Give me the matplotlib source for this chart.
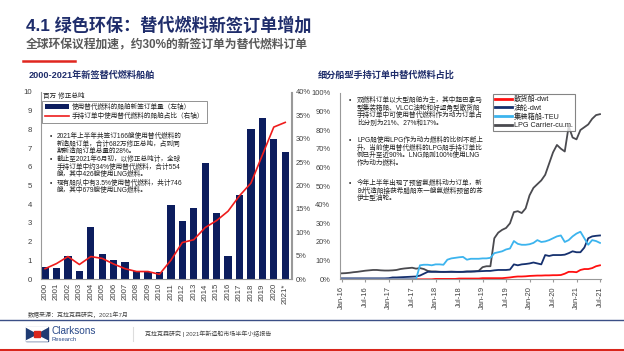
import matplotlib.pyplot as plt
from matplotlib.patches import Rectangle, Polygon
from matplotlib.lines import Line2D

plt.rcParams['font.family'] = ['Liberation Sans', 'Noto Sans CJK SC', 'DejaVu Sans']

# ---- left chart data: new orders for alternative-fuel ships ----
years = ['2000', '2001', '2002', '2003', '2004', '2005', '2006', '2007', '2008', '2009', '2010',
         '2011', '2012', '2013', '2014', '2015', '2016', '2017', '2018', '2019', '2020', '2021*']
orders_mcgt = [0.62, 0.57, 1.25, 0.45, 2.78, 1.35, 1.02, 0.90, 0.45, 0.38, 0.38,
               3.95, 3.12, 3.80, 6.20, 3.55, 1.22, 4.48, 8.00, 8.60, 7.50, 6.80]
share_pct = [2.2, 3.3, 4.8, 3.1, 4.8, 4.4, 3.2, 2.2, 1.6, 1.6, 1.0,
             4.0, 7.8, 8.4, 11.0, 12.5, 14.5, 17.8, 20.5, 26.5, 32.5, 33.5]

# ---- right chart data: monthly share of orderbook, Jan-16 .. Jul-21 ----
month_ticks = ['Jan-16', 'Jul-16', 'Jan-17', 'Jul-17', 'Jan-18', 'Jul-18',
               'Jan-19', 'Jul-19', 'Jan-20', 'Jul-20', 'Jan-21', 'Jul-21']
bulk = [0] * 24 + [0.2] * 6 + [0.4] * 6 + [0.6] * 6 + \
       [0.8, 1.0, 1.3, 1.5, 1.5, 1.6, 1.8, 1.9, 2.0, 2.0, 2.1, 2.1, 2.2, 2.2, 2.3,
        3.0, 4.0, 4.0, 3.8, 5.0, 5.5, 5.5, 6.0, 7.0, 7.5]
tanker = [0.5, 0.5, 0.5, 0.5, 0.5, 0.5, 0.5, 0.5, 0.5, 0.5, 0.5, 0.5,
          0.6, 1.0, 1.0, 1.1, 1.2, 1.3, 1.4, 1.5, 2.0, 3.0, 4.0, 4.0,
          4.0, 4.0, 4.0, 4.0, 4.0, 4.0, 4.0, 4.0, 4.1, 4.2, 4.2, 4.3,
          4.4, 4.5, 4.5, 4.8, 5.0, 5.0, 5.0, 5.2, 8.0, 7.5, 8.0, 8.2,
          8.5, 9.0, 8.5, 8.0, 13.0, 12.5, 13.0, 13.0, 13.0, 13.2, 14.0, 15.0,
          14.5, 14.5, 17.0, 22.0, 23.0, 23.3, 23.5]
container = [0] * 20 + \
            [7.5, 7.8, 7.8, 7.5, 8.0, 8.0, 7.8, 10.5, 11.2, 11.5, 11.8, 12.0,
             10.5, 11.0, 11.0, 11.0, 11.2, 11.2, 11.5, 14.0, 14.5, 15.0, 16.0, 16.5,
             20.5, 19.0, 18.5, 18.5, 18.8, 19.5, 21.0, 20.0, 20.3, 21.0, 22.0, 23.0,
             23.5, 20.0, 21.0, 23.0, 24.5, 25.5, 22.0, 18.5, 21.0, 20.5, 19.5]
lpg = [3.2, 3.3, 3.5, 3.8, 4.0, 4.3, 4.6, 4.8, 5.0, 5.0, 4.8, 4.7,
       4.7, 4.8, 5.0, 5.5, 5.8, 6.0, 6.2, 5.7, 6.0, 5.5, 4.5, 4.2,
       4.2, 4.0, 3.9, 4.0, 4.1, 4.0, 3.9, 4.0, 4.2, 4.1, 4.3, 4.5,
       6.5, 7.0, 7.0, 22.0, 25.0, 26.5, 27.5, 30.0, 36.0, 36.5, 35.5, 38.0,
       45.0, 49.0, 51.0, 53.0, 56.0, 62.0, 68.0, 72.0, 70.0, 68.5, 82.0, 76.0,
       75.0, 80.0, 81.5, 83.0, 86.0, 88.0, 88.5]

NAVY = '#0c1d5e'
TITLE = '#1f2d6b'
GREY = '#404040'
NOTE = 4.75
W, H = 624, 351

fig = plt.figure(figsize=(6.24, 3.51), dpi=100)


def fx(x):
    return x / W


def fy(y):
    return 1 - y / H


# ---- slide header ----
fig.text(fx(26), fy(25), '4.1 绿色环保：替代燃料新签订单增加', fontsize=12.3, fontweight='bold',
         color=TITLE, va='center')
fig.text(fx(26), fy(45), '全球环保议程加速，约30%的新签订单为替代燃料订单', fontsize=8.5,
         fontweight='bold', color='#595959', va='center')
fig.add_artist(Line2D([fx(23), fx(75)], [fy(60.5), fy(60.5)], color='#e0261f', lw=1.8))
fig.text(fx(29), fy(75), '2000-2021年新签替代燃料船舶', fontsize=6.6, fontweight='bold',
         color=TITLE, va='center')
fig.text(fx(318), fy(75), '细分船型手持订单中替代燃料占比', fontsize=6.6, fontweight='bold',
         color=TITLE, va='center')

# ---- left chart ----
ax1 = fig.add_axes([fx(40.5), fy(279), fx(251), 187 / H])
x = range(len(years))
ax1.bar(x, orders_mcgt, width=0.64, color=NAVY, label='使用替代燃料的船舶新签订单量（左轴）')
ax1.set_xlim(-0.4, 21.55)
ax1.set_ylim(0, 10)
ax1.set_yticks(range(0, 11))
ax1.set_xticks(list(x))
ax1.set_xticklabels(years, rotation=90)
ax1.tick_params(labelsize=5.6, colors=GREY, length=0, pad=3)
ax1.tick_params(axis='y', pad=6)
ax1.spines['top'].set_visible(False)
for s in ['left', 'bottom', 'right']:
    ax1.spines[s].set_color('#999999')
    ax1.spines[s].set_linewidth(0.8)

ax1r = ax1.twinx()
ax1r.plot(x, share_pct, color='#ee1c1c', lw=1.2, label='手持订单中使用替代燃料的船舶占比（右轴）')
ax1r.set_ylim(0, 40)
ax1r.set_yticks(range(0, 41, 5))
ax1r.set_yticklabels([f'{v}%' for v in range(0, 41, 5)])
ax1r.tick_params(labelsize=5.4, colors=GREY, length=0, pad=3)
for s in ['top', 'left', 'bottom']:
    ax1r.spines[s].set_visible(False)
ax1r.spines['right'].set_color('#999999')
ax1r.spines['right'].set_linewidth(0.8)

ax1.text(0.01, 0.975, '百万 修正总吨', transform=ax1.transAxes, fontsize=NOTE, color='#222222',
         va='center')
h1, l1 = ax1.get_legend_handles_labels()
h2, l2 = ax1r.get_legend_handles_labels()
leg = ax1r.legend(h1 + h2, l1 + l2, loc='upper left', bbox_to_anchor=(fx(42.5), fy(101)),
                  bbox_transform=fig.transFigure, fontsize=NOTE, frameon=True, fancybox=False,
                  edgecolor='#777777', borderpad=0.4, labelspacing=0.35, handlelength=3.6,
                  handletextpad=0.4, borderaxespad=0)
leg.get_frame().set_linewidth(0.7)
for t in leg.get_texts():
    t.set_color('#222222')

left_notes = [
    (50, 136.5, '•'), (57, 136.5, '2021年上半年共签订166艘使用替代燃料的'),
    (57, 144.0, '新造船订单，合计682万修正总吨，占到同'),
    (57, 151.5, '期新造船订单总量的28%。'),
    (50, 159.5, '•'), (57, 159.5, '截止至2021年6月初，以修正总吨计，全球'),
    (57, 167.0, '手持订单中约34%使用替代燃料，合计554'),
    (57, 174.5, '艘，其中426艘使用LNG燃料。'),
    (50, 183.0, '•'), (57, 183.0, '现有船队中有3.5%使用替代燃料，共计746'),
    (57, 190.5, '艘，其中679艘使用LNG燃料。'),
]
for px, py, s in left_notes:
    fig.text(fx(px), fy(py), s, fontsize=NOTE, color='#222222', va='center')

# ---- right chart ----
ax2 = fig.add_axes([fx(340), fy(279.3), fx(261), 186.6 / H])
m = range(len(lpg))
ax2.plot(m, lpg, color='#4a4a4f', lw=1.3, label='LPG Carrier-cu.m.')
ax2.plot(m, tanker, color='#15306e', lw=1.3, label='油轮-dwt')
ax2.plot(m, bulk, color='#ff1010', lw=1.3, label='散货船-dwt')
ax2.plot(m, container, color='#3cb4ee', lw=1.3, label='集装箱船-TEU')
ax2.set_xlim(-0.43, 66.26)
ax2.set_ylim(0, 100)
ax2.set_yticks(range(0, 101, 10))
ax2.set_yticklabels([f'{v}%' for v in range(0, 101, 10)])
ax2.set_xticks(range(0, 67, 6))
ax2.set_xticklabels(month_ticks, rotation=90)
ax2.tick_params(labelsize=5.4, colors=GREY, pad=3)
ax2.tick_params(axis='y', length=0, pad=7)
ax2.tick_params(axis='x', length=2, color='#999999')
for s in ['top', 'right']:
    ax2.spines[s].set_visible(False)
for s in ['left', 'bottom']:
    ax2.spines[s].set_color('#999999')
    ax2.spines[s].set_linewidth(0.8)

hs, ls = ax2.get_legend_handles_labels()
order = [2, 1, 3, 0]
leg2 = ax2.legend([hs[i] for i in order], [ls[i] for i in order], loc='upper left',
                  bbox_to_anchor=(fx(492.5), fy(93.5)), bbox_transform=fig.transFigure,
                  fontsize=5.2, frameon=True, fancybox=False, edgecolor='#666666',
                  borderpad=0.3, labelspacing=0.2, handlelength=2.4, handletextpad=0.3,
                  borderaxespad=0)
leg2.get_frame().set_linewidth(0.8)
for ln in leg2.get_lines():
    ln.set_linewidth(2.0)
for t in leg2.get_texts():
    t.set_color('#222222')

right_notes = [
    (349, 100.5, '•'), (357, 100.5, '双燃料订单以大型船舶为主，其中超巴拿马'),
    (357, 108.0, '型集装箱船、VLCC油轮和好望角型散货船'),
    (357, 115.5, '手持订单中可使用替代燃料作为动力订单占'),
    (357, 123.0, '比分别为21%、27%和17%。'),
    (349, 140.5, '•'), (357, 140.5, 'LPG船使用LPG作为动力燃料的比例不断上'),
    (357, 148.0, '升，当前使用替代燃料的LPG船手持订单比'),
    (357, 155.5, '例已升至近90%。LNG船则100%使用LNG'),
    (357, 163.0, '作为动力燃料。'),
    (349, 183.5, '•'), (357, 183.5, '今年上半年出现了预留氨燃料动力订单，新'),
    (357, 191.0, '时代造船接获希腊船东一艘氨燃料预留的苏'),
    (357, 198.5, '伊士型油轮。'),
]
for px, py, s in right_notes:
    fig.text(fx(px), fy(py), s, fontsize=NOTE, color='#222222', va='center')

# ---- footer ----
fig.text(fx(28), fy(315), '数据来源：克拉克森研究，2021年7月', fontsize=4.3, color='#444444',
         va='center')
fig.add_artist(Line2D([0, 1], [fy(320), fy(320)], color='#3b4f86', lw=1.0))
fig.add_artist(Line2D([0, 1], [fy(349.5), fy(349.5)], color='#d9261c', lw=2.2))
fig.add_artist(Line2D([fx(132.5), fx(132.5)], [fy(327), fy(341)], color='#dddddd', lw=0.8))
# logo
fig.add_artist(Rectangle((fx(26), fy(341)), fx(22), 14 / H, color='#1f3b73'))
fig.add_artist(Polygon([(fx(26), fy(327)), (fx(37), fy(333)), (fx(48), fy(327))],
                       closed=True, color='white'))
fig.add_artist(Polygon([(fx(26), fy(341)), (fx(37), fy(335.5)), (fx(48), fy(341))],
                       closed=True, color='white'))
fig.add_artist(Rectangle((fx(34), fy(337)), fx(6), 6 / H, color='#d9261c'))
fig.text(fx(51), fy(331), 'Clarksons', fontsize=7.2, color='#2a4a8a', va='center')
fig.text(fx(51), fy(339.5), 'Research', fontsize=4.2, color='#2a4a8a', va='center')
fig.text(fx(145), fy(334), '克拉克森研究 | 2021年新造船市场半年小结报告', fontsize=4.3,
         color='#444444', va='center')

fig.savefig('out.png', dpi=100)
